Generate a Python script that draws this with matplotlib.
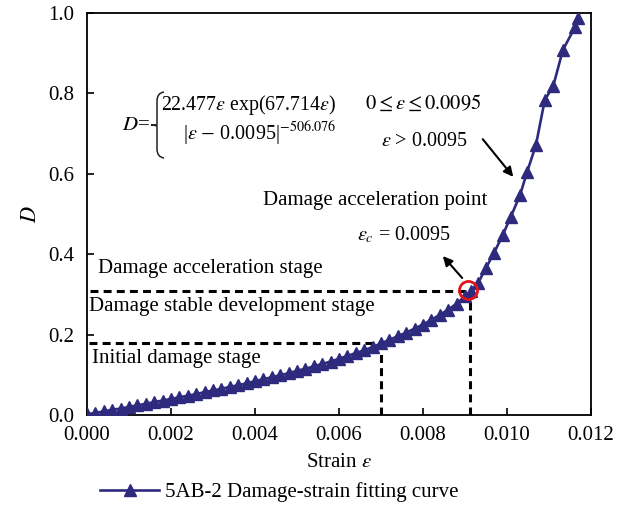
import matplotlib
matplotlib.use("Agg")
import matplotlib.pyplot as plt
from matplotlib.path import Path
from matplotlib.patches import PathPatch

plt.rcParams['font.family'] = ['Liberation Serif', 'DejaVu Serif']
plt.rcParams['mathtext.fontset'] = 'stix'

# ---- data ----
strain = [0.0000, 0.0002, 0.0004, 0.0006, 0.0008, 0.0010, 0.0012, 0.0014, 0.0016, 0.0018,
          0.0020, 0.0022, 0.0024, 0.0026, 0.0028, 0.0030, 0.0032, 0.0034, 0.0036, 0.0038,
          0.0040, 0.0042, 0.0044, 0.0046, 0.0048, 0.0050, 0.0052, 0.0054, 0.0056, 0.0058,
          0.0060, 0.0062, 0.0064, 0.0066, 0.0068, 0.0070, 0.0072, 0.0074, 0.0076, 0.0078,
          0.0080, 0.0082, 0.0084, 0.0086, 0.0088, 0.0090, 0.00915, 0.00931, 0.00950, 0.00969,
          0.00990, 0.01009, 0.01031, 0.01048, 0.01069, 0.01090, 0.01110, 0.01133, 0.01162, 0.01169]
damage = [0.002, 0.005, 0.009, 0.013, 0.016, 0.020, 0.024, 0.028, 0.032, 0.036,
          0.040, 0.044, 0.048, 0.052, 0.057, 0.061, 0.065, 0.070, 0.074, 0.079,
          0.084, 0.089, 0.094, 0.099, 0.104, 0.110, 0.115, 0.121, 0.127, 0.133,
          0.140, 0.147, 0.154, 0.161, 0.169, 0.178, 0.187, 0.196, 0.205, 0.215,
          0.225, 0.237, 0.249, 0.262, 0.277, 0.295, 0.309, 0.328, 0.366, 0.403,
          0.448, 0.493, 0.547, 0.605, 0.672, 0.784, 0.818, 0.908, 0.965, 0.988]

stage_strain = [0.0070, 0.00912]     # vertical dashed lines
stage_damage = [0.180, 0.308]        # horizontal dashed lines
acc_point = (0.00908, 0.311)         # red circle

x_ticks = [0.000, 0.002, 0.004, 0.006, 0.008, 0.010, 0.012]
y_ticks = [0.0, 0.2, 0.4, 0.6, 0.8, 1.0]

W, H = 631, 509
fig = plt.figure(figsize=(W / 100, H / 100), dpi=100)
L, R, T, B = 87, 591, 13, 415
ax = fig.add_axes([L / W, 1 - B / H, (R - L) / W, (B - T) / H])

navy = '#2E2B7E'
FS = 15

line, = ax.plot(strain, damage, color=navy, lw=1.9, marker='^', ms=8.5, mec=navy, mfc=navy,
                label='5AB-2 Damage-strain fitting curve', zorder=3)

dash_kw = dict(color='black', lw=2.2, dashes=(2.6, 1.7), zorder=2)
ax.plot([0.00005, stage_strain[0]], [stage_damage[0], stage_damage[0]], **dash_kw)
ax.plot([stage_strain[0], stage_strain[0]], [0, stage_damage[0]], **dash_kw)
ax.plot([0.00008, stage_strain[1]], [stage_damage[1], stage_damage[1]], **dash_kw)
ax.plot([stage_strain[1], stage_strain[1]], [0, stage_damage[1]], **dash_kw)

ax.plot([acc_point[0]], [acc_point[1]], marker='o', ms=13, mfc='none', mec='#E0141E',
        mew=2.0, zorder=5)

ax.set_xlim(0, 0.012)
ax.set_ylim(0, 1.0)
ax.set_xticks(x_ticks)
ax.set_xticklabels([f"{v:.3f}" for v in x_ticks])
ax.set_yticks(y_ticks)
ax.set_yticklabels([f"{v:.1f}" for v in y_ticks])
ax.tick_params(direction='in', length=5, width=1.2, labelsize=FS,
               top=False, right=False)
ax.tick_params(axis='x', pad=8)
ax.tick_params(axis='y', pad=9)
for s in ax.spines.values():
    s.set_linewidth(1.3)

ax.set_xlabel(r'Strain $\varepsilon$', fontsize=FS, labelpad=6)
ax.set_ylabel(r'$D$', fontsize=16, labelpad=5)


def af(px, py):
    return ((px - L) / (R - L), (B - py) / (B - T))


def txt(px, py, s, fs=FS, ha='left'):
    ax.text(*af(px, py), s, transform=ax.transAxes, fontsize=fs, ha=ha, va='center')


txt(122, 125, r'$D$=')
txt(161, 105, r'22.477$\varepsilon$ exp(67.714$\varepsilon$)', fs=14.3)
txt(183, 134, r'|$\varepsilon$ $-$ 0.0095|$^{-506.076}$', fs=14.5)
txt(481, 104, r'$0 \leq \varepsilon \leq 0.0095$', fs=14.8, ha='right')
txt(468, 142, r'$\varepsilon$ > 0.0095', fs=14.5, ha='right')
txt(487, 200, 'Damage acceleration point', ha='right')
txt(357, 235, r'$\varepsilon_c$ = 0.0095', fs=14.5)
txt(98, 268, 'Damage acceleration stage')
txt(89, 307, 'Damage stable development stage')
txt(92, 359, 'Initial damage stage')

# brace
def ff(px, py):
    return (px / W, 1 - py / H)

verts = [ff(164, 92), ff(157, 93), ff(157, 101), ff(157, 117), ff(157, 123), ff(157, 125),
         ff(151, 125), ff(157, 125), ff(157, 127), ff(157, 133), ff(157, 149),
         ff(157, 157), ff(164, 158)]
codes = [Path.MOVETO, Path.CURVE3, Path.CURVE3, Path.LINETO, Path.CURVE3, Path.CURVE3,
         Path.LINETO, Path.CURVE3, Path.CURVE3, Path.LINETO, Path.LINETO,
         Path.CURVE3, Path.CURVE3]
fig.patches.append(PathPatch(Path(verts, codes), transform=fig.transFigure,
                             fill=False, lw=1.1, color='#222222'))

arrow_kw = dict(arrowstyle='-|>', color='black', lw=1.5, mutation_scale=14)
ax.annotate('', xy=af(515, 179), xytext=af(481, 137), xycoords='axes fraction',
            textcoords='axes fraction', arrowprops=arrow_kw)
ax.annotate('', xy=af(441, 254), xytext=af(464, 280), xycoords='axes fraction',
            textcoords='axes fraction', arrowprops=arrow_kw)

fig.legend(handles=[line], loc='center left', bbox_to_anchor=(92 / W, 1 - 492 / H),
           frameon=False, fontsize=FS, handlelength=2.8, handletextpad=0.3,
           numpoints=1, borderaxespad=0)

fig.savefig('out.png', dpi=100)
